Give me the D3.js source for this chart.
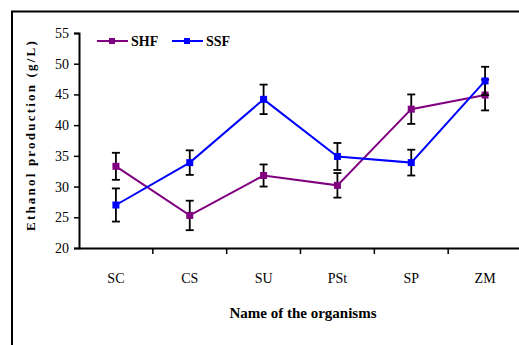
<!DOCTYPE html>
<html>
<head>
<meta charset="utf-8">
<script src="https://cdn.jsdelivr.net/npm/d3@7"></script>
<style>
  body { margin: 0; background: #fff; }
  svg text { font-family: "Liberation Serif", "Times New Roman", serif; }
</style>
</head>
<body>
<svg id="chart" width="519" height="345"></svg>
<script>
// organisms on the x axis
const organisms = ["SC", "CS", "SU", "PSt", "SP", "ZM"];
const yTicks = [20, 25, 30, 35, 40, 45, 50, 55];

// ethanol (g/L) and error bars
const shf = [33.3, 25.3, 31.8, 30.2, 42.6, 44.9];
const shfErr = [2.2, 2.4, 1.8, 2.0, 2.4, 2.5];
const ssf = [27.0, 33.9, 44.2, 34.9, 33.9, 47.2];
const ssfErr = [2.7, 2.0, 2.4, 2.2, 2.1, 2.3];

const series = [
    { name: "SHF", values: shf, err: shfErr, color: "#800080" },
    { name: "SSF", values: ssf, err: ssfErr, color: "#0000ff" }
];

const svg = d3.select("#chart");

// frame around the chart (only top/left visible)
svg.append("path")
    .attr("d", "M12,345 V11.5 H519")
    .attr("fill", "none")
    .attr("stroke", "#000")
    .attr("stroke-width", 2);

const x = d3.scaleBand().domain(organisms).range([79, 522]);
const y = d3.scaleLinear().domain([20, 55]).range([248, 33]);

// x axis
const xAxis = svg.append("g")
    .attr("transform", "translate(0,248)")
    .call(d3.axisBottom(x).tickSize(0).tickPadding(0));
xAxis.select(".domain").attr("stroke-width", 2);
xAxis.selectAll(".tick text").remove();
// ticks between categories
svg.append("g").selectAll("line")
    .data(organisms)
    .join("line")
    .attr("x1", d => x(d) + x.bandwidth())
    .attr("x2", d => x(d) + x.bandwidth())
    .attr("y1", 248)
    .attr("y2", 254)
    .attr("stroke", "#000")
    .attr("stroke-width", 1.5);
svg.append("g").selectAll("text")
    .data(organisms)
    .join("text")
    .attr("x", d => x(d) + x.bandwidth() / 2)
    .attr("y", 283)
    .attr("text-anchor", "middle")
    .attr("font-size", "14px")
    .text(d => d);

// y axis
const yAxis = svg.append("g")
    .attr("transform", "translate(79,0)")
    .call(d3.axisLeft(y).tickValues(yTicks).tickSize(5).tickPadding(5));
yAxis.select(".domain").attr("stroke-width", 2);
yAxis.selectAll(".tick line").attr("stroke-width", 1.5);
yAxis.selectAll(".tick text")
    .attr("font-size", "14px")
    .attr("fill", "#000");

// axis titles
svg.append("text")
    .attr("transform", "translate(35,135) rotate(-90)")
    .attr("text-anchor", "middle")
    .attr("font-size", "13px")
    .attr("font-weight", "bold")
    .attr("letter-spacing", "2.2px")
    .text("Ethanol production (g/L)");

svg.append("text")
    .attr("x", 303)
    .attr("y", 318)
    .attr("text-anchor", "middle")
    .attr("font-size", "15px")
    .attr("font-weight", "bold")
    .text("Name of the organisms");

const line = d3.line()
    .x((d, i) => x(organisms[i]) + x.bandwidth() / 2)
    .y(d => y(d));

series.forEach(s => {
    const g = svg.append("g");
    g.append("path")
        .datum(s.values)
        .attr("fill", "none")
        .attr("stroke", s.color)
        .attr("stroke-width", 2)
        .attr("d", line);

    // error bars
    const eb = g.append("g").selectAll("g")
        .data(s.values)
        .join("g")
        .attr("stroke", "#000")
        .attr("stroke-width", 1.8);
    eb.append("line")
        .attr("x1", (d, i) => x(organisms[i]) + x.bandwidth() / 2)
        .attr("x2", (d, i) => x(organisms[i]) + x.bandwidth() / 2)
        .attr("y1", (d, i) => y(d + s.err[i]))
        .attr("y2", (d, i) => y(d - s.err[i]));
    [1, -1].forEach(sign => {
        eb.append("line")
            .attr("x1", (d, i) => x(organisms[i]) + x.bandwidth() / 2 - 4)
            .attr("x2", (d, i) => x(organisms[i]) + x.bandwidth() / 2 + 4)
            .attr("y1", (d, i) => y(d + sign * s.err[i]))
            .attr("y2", (d, i) => y(d + sign * s.err[i]));
    });

    g.append("g").selectAll("rect")
        .data(s.values)
        .join("rect")
        .attr("x", (d, i) => x(organisms[i]) + x.bandwidth() / 2 - 3.5)
        .attr("y", d => y(d) - 3.5)
        .attr("width", 7)
        .attr("height", 7)
        .attr("fill", s.color);
});

// legend
const legend = svg.append("g").selectAll("g")
    .data(series)
    .join("g")
    .attr("transform", (d, i) => `translate(${97 + i * 75},41)`);
legend.append("line")
    .attr("x1", 0).attr("x2", 31)
    .attr("stroke", d => d.color)
    .attr("stroke-width", 2);
legend.append("rect")
    .attr("x", 12).attr("y", -3).attr("width", 6).attr("height", 6)
    .attr("fill", d => d.color);
legend.append("text")
    .attr("x", 34)
    .attr("y", 5)
    .attr("font-size", "14px")
    .attr("font-weight", "bold")
    .text(d => d.name);
</script>
</body>
</html>
